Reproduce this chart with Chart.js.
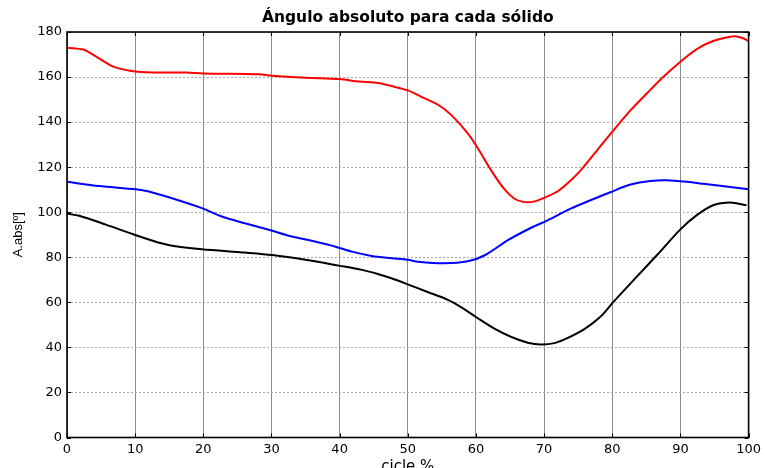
<!DOCTYPE html>
<html>
<head>
<meta charset="utf-8">
<script src="https://cdn.jsdelivr.net/npm/chart.js@4/dist/chart.umd.min.js"></script>
<style>
  html, body { margin: 0; padding: 0; background: #fff; overflow: hidden; }
  canvas { display: block; }
</style>
</head>
<body>
<canvas id="c" width="765" height="476"></canvas>
<script>
// Absolute angle of each segment over the gait cycle (%)
const redX = [0, 2.4, 3.8, 6.8, 9.2, 11.6, 17.5, 20, 28.2, 30, 35, 40, 42.8, 45.7, 47.6, 50.1, 52, 54.5, 56.4, 58.8,
  60.3, 62.2, 64.2, 65.6, 66.9, 68.3, 70, 72, 73.4, 75.4, 77.8, 79.8, 82.7, 85.1, 87.5, 90, 92.4, 94.8, 97.3, 98, 99.2, 100];
const redY = [173, 172.2, 170, 164.6, 162.8, 162.1, 162, 161.6, 161.2, 160.6, 159.7, 159.1, 158, 157.4, 156, 154, 151.2, 147.6, 143.1, 135,
  128.3, 118.7, 110.1, 106.1, 104.6, 104.6, 106.4, 109.3, 112.7, 118.7, 127.6, 135, 145.3, 152.8, 160.1, 166.8, 172.4, 176, 177.9, 178.1, 177.2, 176];

const blueX = [0, 4.7, 10.1, 12, 15.4, 19.8, 22.7, 26.1, 29.6, 33, 35.9, 39.4, 41.8, 44.7, 47.6, 50, 51.5, 55.4, 58.8,
  61.3, 64.7, 68.1, 70.5, 73.9, 76.8, 79.8, 82.7, 85.6, 88, 91, 93.4, 95.8, 100];
const blueY = [113.5, 111.6, 110.2, 109.2, 106.2, 101.8, 98.1, 95.1, 92.2, 89.2, 87.3, 84.7, 82.5, 80.6, 79.6, 78.9, 78, 77.3, 78.2,
  80.9, 87.6, 93.1, 96.4, 101.6, 105.3, 109, 112.3, 113.9, 114.2, 113.5, 112.6, 111.7, 110.2];

const blackX = [0, 1.8, 5.7, 9.8, 12, 14, 15.9, 19.8, 26.1, 30.1, 35, 39.9, 43.3, 45.7, 47.6, 50, 52.9, 55.8, 57.8,
  60, 62.7, 65.2, 67.6, 69.5, 71.5, 73.4, 75.9, 78.3, 80.2, 83.6, 86.6, 90, 92.4, 94.8, 97.3, 99.7];
const blackY = [99.4, 98.4, 94.5, 90.1, 87.9, 86.1, 84.9, 83.6, 82.1, 81, 78.9, 76.3, 74.4, 72.5, 70.7, 68, 64.6, 61.2, 57.9,
  53.5, 48.3, 44.6, 42.1, 41.3, 41.9, 44.1, 48.1, 53.7, 60.3, 71.4, 81.1, 92.4, 98.7, 103.1, 104.3, 103.1];

const xTicksMin = 0, xTicksMax = 100, xStep = 10;
const yTicksMin = 0, yTicksMax = 180, yStep = 20;

const titleText = 'Ángulo absoluto para cada sólido';
const xTitle = 'cicle %';
const yTitle = 'A.abs[º]';

function pts(xs, ys) { return xs.map((x, i) => ({ x: x, y: ys[i] })); }

// Boxed axes with inward tick marks on all four sides
const axesBox = {
  id: 'axesBox',
  afterDraw(chart) {
    const { ctx, chartArea: a, scales } = chart;
    const sx = scales.x, sy = scales.y;
    ctx.save();
    ctx.strokeStyle = '#000';
    ctx.lineWidth = 1;
    const tl = 4;
    ctx.beginPath();
    sx.ticks.forEach(t => {
      const px = Math.round(sx.getPixelForValue(t.value)) + 0.5;
      ctx.moveTo(px, a.bottom); ctx.lineTo(px, a.bottom - tl);
      ctx.moveTo(px, a.top); ctx.lineTo(px, a.top + tl);
    });
    sy.ticks.forEach(t => {
      const py = Math.round(sy.getPixelForValue(t.value)) + 0.5;
      ctx.moveTo(a.left, py); ctx.lineTo(a.left + tl, py);
      ctx.moveTo(a.right, py); ctx.lineTo(a.right - tl, py);
    });
    ctx.stroke();
    ctx.lineWidth = 1.6;
    ctx.strokeRect(a.left, a.top, a.right - a.left, a.bottom - a.top);
    ctx.restore();
  }
};

const lineStyle = { borderWidth: 2, pointRadius: 0, fill: false, tension: 0.3 };

new Chart(document.getElementById('c'), {
  type: 'line',
  data: {
    datasets: [
      Object.assign({ label: 'rojo', data: pts(redX, redY), borderColor: '#ff0000' }, lineStyle),
      Object.assign({ label: 'azul', data: pts(blueX, blueY), borderColor: '#0000ff' }, lineStyle),
      Object.assign({ label: 'negro', data: pts(blackX, blackY), borderColor: '#000000' }, lineStyle)
    ]
  },
  options: {
    responsive: false,
    animation: false,
    devicePixelRatio: 1,
    layout: { padding: { left: 0, right: 13, top: 0, bottom: 0 } },
    plugins: {
      legend: { display: false },
      tooltip: { enabled: false },
      title: {
        display: true,
        fullSize: false,
        text: titleText,
        color: '#000',
        font: { family: 'DejaVu Sans', weight: 'bold', size: 15.5 },
        padding: { top: 9, bottom: 4.4 }
      }
    },
    scales: {
      x: {
        type: 'linear',
        min: xTicksMin, max: xTicksMax,
        ticks: { stepSize: xStep, color: '#000', font: { family: 'DejaVu Sans', size: 13 }, padding: 4, maxRotation: 0 },
        grid: { color: '#8c8c8c', lineWidth: 1, drawTicks: false },
        border: { display: false },
        title: { display: true, text: xTitle, color: '#000', font: { family: 'DejaVu Sans', size: 15 }, padding: { top: 0, bottom: 0 } },
        afterFit(s) { s.height = 476 - 437.5; }
      },
      y: {
        type: 'linear',
        min: yTicksMin, max: yTicksMax,
        ticks: { stepSize: yStep, color: '#000', font: { family: 'DejaVu Sans', size: 13 }, padding: 5 },
        grid: { color: '#a8a8a8', lineWidth: 1, drawTicks: false },
        border: { display: false, dash: [2, 2] },
        title: { display: true, text: yTitle, color: '#000', font: { family: 'Liberation Sans', size: 13 }, padding: { top: 11, bottom: 0 } },
        afterFit(s) { s.width = 67; }
      }
    }
  },
  plugins: [axesBox]
});
</script>
</body>
</html>
